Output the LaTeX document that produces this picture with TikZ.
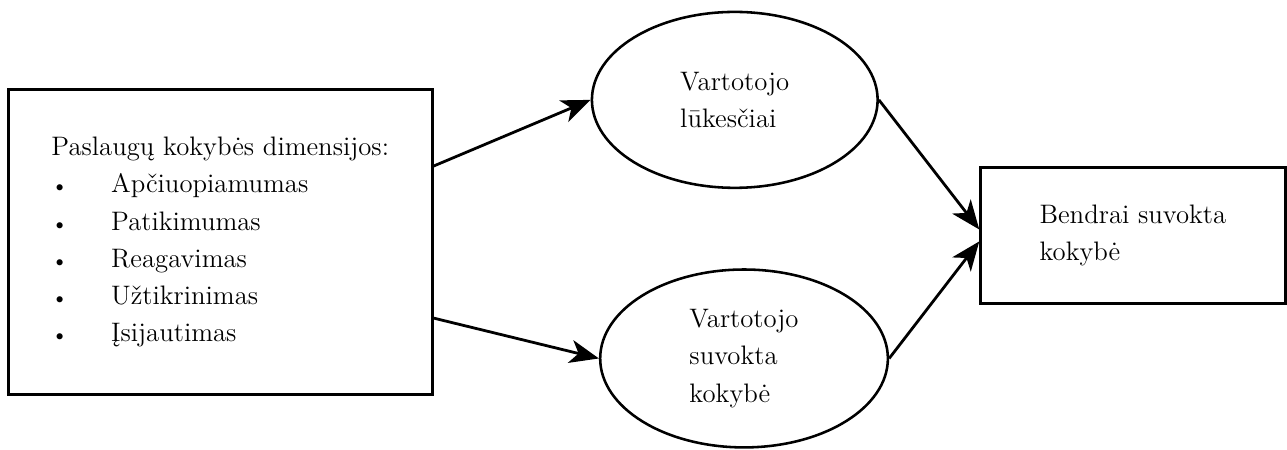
\documentclass[tikz,border=0pt]{standalone}
\usepackage{fontspec}
\usepackage{tikz}
\usetikzlibrary{positioning,arrows.meta,shapes.geometric}

% bullet with a tab stop, as in the word-processor list
\newcommand{\lstitem}[1]{\makebox[25.7pt][l]{{\small\textbullet}}#1}

\begin{document}
\begin{tikzpicture}[>={Stealth[length=12.5pt, width=10pt, inset=3.5pt]},
  every node/.style={font=\fontsize{11.5pt}{16pt}\selectfont},
  box/.style={draw, line width=1.3pt, align=left, inner sep=0pt},
  oval/.style={draw, ellipse, line width=1.1pt, align=left, inner sep=0pt},
  link/.style={->, line width=1.2pt}]
\useasboundingbox (0,0) rectangle (19.46,6.80);
\node[box, minimum width=6.41cm, minimum height=4.61cm] (dim) at (3.33,3.14)
  {Paslaugų kokybės dimensijos:\\
   \lstitem{Apčiuopiamumas}\\
   \lstitem{Patikimumas}\\
   \lstitem{Reagavimas}\\
   \lstitem{Užtikrinimas}\\
   \lstitem{Įsijautimas}};
\node[oval, minimum width=4.32cm, minimum height=2.66cm] (luk) at (11.11,5.29)
  {Vartotojo\\ lūkesčiai};
\node[oval, minimum width=4.35cm, minimum height=2.69cm] (suv) at (11.25,1.38)
  {Vartotojo\\ suvokta\\ kokybė};
\node[box, minimum width=4.60cm, minimum height=2.06cm] (bendr) at (17.13,3.24)
  {Bendrai suvokta\\ kokybė};
\draw[link] ([yshift=1.15cm]dim.east) -- (luk.west);
\draw[link] ([yshift=-1.15cm]dim.east) -- (suv.west);
\draw[link] (luk.east) -- ([yshift=0.09cm]bendr.west);
\draw[link] (suv.east) -- ([yshift=-0.09cm]bendr.west);
\end{tikzpicture}
\end{document}
